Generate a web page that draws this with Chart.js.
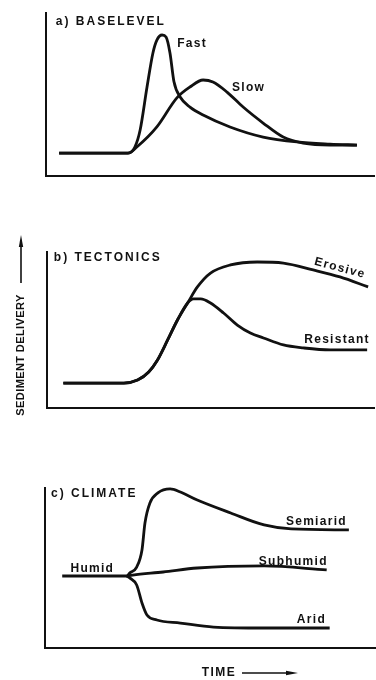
<!DOCTYPE html>
<html>
<head>
<meta charset="utf-8">
<script src="https://cdn.jsdelivr.net/npm/chart.js@4.4.1/dist/chart.umd.min.js"></script>
<style>
  html, body { margin: 0; padding: 0; background: #fff; }
  body { width: 376px; height: 680px; position: relative; overflow: hidden; }
  canvas { position: absolute; left: 0; }
</style>
</head>
<body>
<canvas id="panelA" width="376" height="195" style="top:0px"></canvas>
<canvas id="panelB" width="376" height="200" style="top:225px"></canvas>
<canvas id="panelC" width="376" height="210" style="top:470px"></canvas>
<script>
// time runs 0-100 along each panel, sediment delivery 0-100 up the axis
// a) baselevel
const fast = [[4, 14], [25, 14], [27.1, 17.8], [28.7, 28.2], [30.8, 54.6], [32.6, 75.5], [33.8, 83.4],
  [35.4, 86.5], [36.6, 85.3], [37.8, 75.5], [39, 58], [40.9, 48.5], [43.9, 42.3],
  [47.9, 37.4], [56.1, 30.1], [66.2, 23.9], [76.5, 20.9], [86.6, 19.6], [94.8, 19]]
const slow = [[4, 14], [25, 14], [27.7, 17.8], [33.8, 30.1], [39.9, 47.9], [43.9, 54.6], [47.9, 58.9],
  [50.9, 57.7], [55.2, 51.5], [60.1, 42.3], [66.2, 32.5], [72.3, 23.9], [78.4, 20.2], [86.6, 19], [94.8, 19]]

// b) tectonics
const resistant = [[5, 16], [23.5, 16], [27.7, 17.9], [31.1, 23.1], [33.8, 30.8], [36.9, 43.6], [39.9, 56.4],
  [43, 67.3], [44.8, 69.9], [47, 69.9], [50, 67.3], [54, 60.9], [58.2, 53.2], [62.2, 48.1], [66.2, 44.9],
  [72.3, 40.4], [78.4, 38.5], [86.6, 37.2], [97.9, 37.2]]
const erosive = [[5, 16], [23.5, 16], [27.7, 17.9], [31.1, 23.1], [33.8, 30.8], [36.9, 43.6], [39.9, 56.4],
  [43, 67.3], [46, 77.6], [50, 86.5], [56.1, 91.7], [64.3, 93.6], [72.3, 92.9], [81.4, 88.5], [89.6, 84], [98.2, 77.6]]

// c) climate
const semiarid = [[5.2, 45], [24.7, 45], [25.6, 46.9], [27.7, 50.6], [29.3, 61.3], [30.2, 78.1], [31.7, 90.6],
  [34.1, 96.9], [37.8, 99.4], [40.9, 97.5], [46, 92.5], [56.1, 84.4], [66.2, 76.9], [74.4, 74.4], [91.8, 73.8]]
const subhumid = [[24.7, 45], [26.5, 45.6], [35.7, 47.5], [46, 50], [66.2, 51.3], [85.1, 48.8]]
const arid = [[24.7, 45], [25.6, 43.8], [27.7, 39.4], [29.3, 28.1], [30.8, 20.6], [33.8, 17.5], [40.9, 15.6],
  [50.9, 13.1], [66.2, 12.5], [86, 12.5]]

// panel headings, placed in data units
const headings = ['a) BASELEVEL', 'b) TECTONICS', 'c) CLIMATE']
const headingPos = [[3, 94.5], [2.1, 96.2], [1.8, 96.3]]

// curve names: [text, x, y, align, rotation in degrees]
const labelsA = [['Fast', 40, 81, 'left'], ['Slow', 56.7, 54, 'left']]
const labelsB = [['Erosive', 89.6, 89.7, 'center', 15], ['Resistant', 88.7, 43.6, 'center']]
const labelsC = [['Semiarid', 82, 79], ['Subhumid', 75, 53.8], ['Humid', 14.3, 49.4], ['Arid', 80.5, 17.5]]

const INK = '#111'
const FONT = 'bold 12px "Liberation Sans", Arial, sans-serif'

const curveLabels = {
  id: 'curveLabels',
  afterDatasetsDraw(chart, args, opts) {
    const { ctx, scales: { x, y } } = chart
    ctx.save()
    ctx.fillStyle = INK
    ctx.font = FONT
    ctx.textBaseline = 'middle'

    ctx.letterSpacing = '2px'
    ctx.textAlign = 'left'
    ctx.fillText(opts.heading, x.getPixelForValue(opts.headingAt[0]), y.getPixelForValue(opts.headingAt[1]))

    ctx.letterSpacing = '1.3px'
    opts.items.forEach(([text, tx, ty, align, rot]) => {
      ctx.save()
      ctx.translate(x.getPixelForValue(tx), y.getPixelForValue(ty))
      if (rot) ctx.rotate(rot * Math.PI / 180)
      ctx.textAlign = align || 'center'
      ctx.fillText(text, 0, 0)
      ctx.restore()
    })
    if (opts.extra) opts.extra(ctx, chart.chartArea)
    ctx.restore()
  }
}

function arrowHead(ctx, x, y, angle, len, half) {
  ctx.save()
  ctx.translate(x, y)
  ctx.rotate(angle)
  ctx.beginPath()
  ctx.moveTo(0, 0)
  ctx.lineTo(-len, -half)
  ctx.lineTo(-len, half)
  ctx.closePath()
  ctx.fill()
  ctx.restore()
}

// vertical axis title beside the middle panel
function yTitle(ctx, area) {
  const cx = area.left - 26
  ctx.save()
  ctx.translate(cx, area.top + 103)
  ctx.rotate(-Math.PI / 2)
  ctx.font = 'bold 11px "Liberation Sans", Arial, sans-serif'
  ctx.letterSpacing = '0.4px'
  ctx.textAlign = 'center'
  ctx.fillText('SEDIMENT DELIVERY', 0, 0)
  ctx.restore()
  ctx.strokeStyle = INK
  ctx.lineWidth = 1.6
  ctx.beginPath()
  ctx.moveTo(cx, area.top + 31)
  ctx.lineTo(cx, area.top - 12)
  ctx.stroke()
  arrowHead(ctx, cx, area.top - 17, -Math.PI / 2, 12, 2.2)
}

// time title under the bottom panel
function xTitle(ctx, area) {
  const ty = area.bottom + 25
  ctx.textAlign = 'center'
  ctx.letterSpacing = '1.5px'
  ctx.fillText('TIME', 219, ty)
  ctx.strokeStyle = INK
  ctx.lineWidth = 1.6
  ctx.beginPath()
  ctx.moveTo(242, ty)
  ctx.lineTo(292, ty)
  ctx.stroke()
  arrowHead(ctx, 298, ty, 0, 12, 2.2)
}

function line(points) {
  return {
    data: points.map(([x, y]) => ({ x, y })),
    borderColor: INK,
    borderWidth: 2.8,
    pointRadius: 0,
    fill: false,
    cubicInterpolationMode: 'monotone',
    clip: false
  }
}

function panel(id, series, idx, labels, padding, extra) {
  return new Chart(document.getElementById(id), {
    type: 'line',
    data: { datasets: series.map(line) },
    options: {
      responsive: false,
      animation: false,
      layout: { padding },
      scales: {
        x: {
          type: 'linear', min: 0, max: 100,
          grid: { display: false }, ticks: { display: false },
          border: { display: true, color: INK, width: 2 },
          afterFit: s => { s.height = 0 }
        },
        y: {
          min: 0, max: 100,
          grid: { display: false }, ticks: { display: false },
          border: { display: true, color: INK, width: 2 },
          afterFit: s => { s.width = 0 }
        }
      },
      plugins: {
        legend: { display: false },
        tooltip: { enabled: false },
        curveLabels: { heading: headings[idx], headingAt: headingPos[idx], items: labels, extra }
      }
    },
    plugins: [curveLabels]
  })
}

panel('panelA', [fast, slow], 0, labelsA, { left: 46, right: 2, top: 13, bottom: 19 })
panel('panelB', [resistant, erosive], 1, labelsB, { left: 47, right: 2, top: 27, bottom: 17 }, yTitle)
panel('panelC', [semiarid, subhumid, arid], 2, labelsC, { left: 45, right: 0, top: 18, bottom: 32 }, xTitle)
</script>
</body>
</html>
